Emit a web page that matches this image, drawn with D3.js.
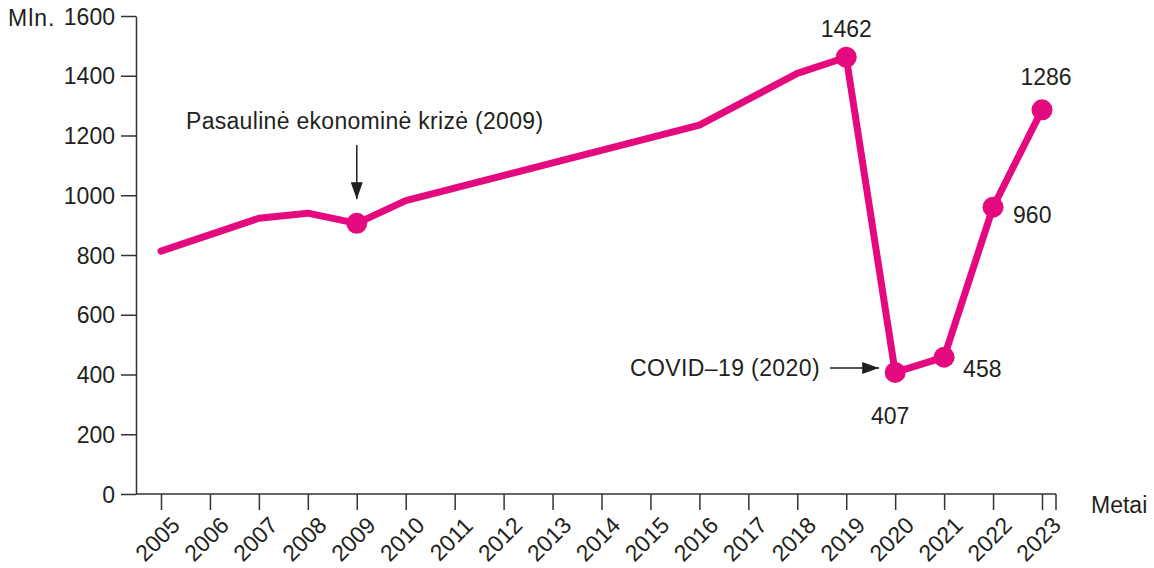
<!DOCTYPE html>
<html>
<head>
<meta charset="utf-8">
<script src="https://cdn.jsdelivr.net/npm/d3@7"></script>
<style>
  body { margin: 0; background: #fff; }
  svg { font-family: "Liberation Sans", Arial, sans-serif; }
  text { fill: #231f20; }
</style>
</head>
<body>
<div id="chart"></div>
<script>
// values (only years where the line bends)
const years = [2005, 2007, 2008, 2009, 2010, 2016, 2018, 2019, 2020, 2021, 2022, 2023]
const tourists = [813, 923, 940, 906, 982, 1235, 1408, 1462, 407, 458, 960, 1286]
const tickYears = d3.range(2005, 2024)
const yTicks = [0, 200, 400, 600, 800, 1000, 1200, 1400, 1600]
const dotYears = [2009, 2019, 2020, 2021, 2022, 2023]
const valueLabels = [
  {year: 2019, text: '1462', dx: 0, dy: -28, anchor: 'middle'},
  {year: 2020, text: '407', dx: -5, dy: 44, anchor: 'middle'},
  {year: 2021, text: '458', dx: 19, dy: 12, anchor: 'start'},
  {year: 2022, text: '960', dx: 20, dy: 8, anchor: 'start'},
  {year: 2023, text: '1286', dx: 4, dy: -33, anchor: 'middle'}
]

const data = years.map((y, i) => ({year: y, value: tourists[i]}))
const pink = '#e5097f'
const ink = '#333'
const fs = '23px'

const width = 1154
const height = 568

const x = d3.scaleLinear().domain([2005, 2023]).range([161, 1042])
const y = d3.scaleLinear().domain([0, 1600]).range([494, 16])

const svg = d3.select('#chart').append('svg')
  .attr('width', width)
  .attr('height', height)

svg.append('defs').append('marker')
  .attr('id', 'head')
  .attr('viewBox', '0 0 17 12')
  .attr('refX', 17).attr('refY', 6)
  .attr('markerWidth', 17).attr('markerHeight', 12)
  .attr('markerUnits', 'userSpaceOnUse')
  .attr('orient', 'auto')
  .append('path')
    .attr('d', 'M0,0L17,6L0,12z')
    .attr('fill', '#231f20')

// y axis
const yAxis = svg.append('g')
  .attr('transform', 'translate(136,0)')
  .call(d3.axisLeft(y).tickValues(yTicks).tickFormat(d3.format('d'))
    .tickSize(15).tickPadding(6).tickSizeOuter(0))
yAxis.select('.domain').attr('stroke', ink).attr('stroke-width', 1.5)
yAxis.selectAll('.tick line').attr('stroke', ink).attr('stroke-width', 1.5)
yAxis.selectAll('.tick text')
  .style('font-size', fs)
  .attr('fill', '#231f20')
  .attr('dy', '0.35em')

svg.append('text')
  .attr('x', 8).attr('y', 26)
  .style('font-size', fs)
  .style('letter-spacing', '1px')
  .text('Mln.')

// x axis
const axisEnd = 1056
svg.append('line')
  .attr('x1', 136).attr('x2', axisEnd)
  .attr('y1', y(0)).attr('y2', y(0))
  .attr('stroke', ink).attr('stroke-width', 1.5)
svg.append('line')
  .attr('x1', axisEnd).attr('x2', axisEnd)
  .attr('y1', y(0)).attr('y2', y(0) + 16)
  .attr('stroke', ink).attr('stroke-width', 1.5)

const xAxis = svg.append('g')
  .attr('transform', `translate(0,${y(0)})`)
  .call(d3.axisBottom(x).tickValues(tickYears).tickFormat(d3.format('d')).tickSize(16).tickSizeOuter(0))
xAxis.select('.domain').remove()
xAxis.selectAll('.tick line').attr('stroke', ink).attr('stroke-width', 1.5)
xAxis.selectAll('.tick text')
  .style('font-size', fs)
  .attr('fill', '#231f20')
  .attr('text-anchor', 'middle')
  .attr('dy', '0.35em')
  .attr('y', 0)
  .attr('transform', 'translate(-4,45) rotate(-45)')

svg.append('text')
  .attr('x', 1091).attr('y', 513)
  .style('font-size', fs)
  .text('Metai')

// line
const line = d3.line().x(d => x(d.year)).y(d => y(d.value))
svg.append('path')
  .datum(data)
  .attr('d', line)
  .attr('fill', 'none')
  .attr('stroke', pink)
  .attr('stroke-width', 7)
  .attr('stroke-linejoin', 'round')
  .attr('stroke-linecap', 'round')

svg.selectAll('circle.dot')
  .data(data.filter(d => dotYears.includes(d.year)))
  .enter()
  .append('circle')
    .attr('class', 'dot')
    .attr('cx', d => x(d.year))
    .attr('cy', d => y(d.value))
    .attr('r', 10.5)
    .attr('fill', pink)

const byYear = new Map(data.map(d => [d.year, d.value]))
svg.selectAll('text.val')
  .data(valueLabels)
  .enter()
  .append('text')
    .attr('class', 'val')
    .attr('x', d => x(d.year) + d.dx)
    .attr('y', d => y(byYear.get(d.year)) + d.dy)
    .attr('text-anchor', d => d.anchor)
    .attr('dy', '0.35em')
    .style('font-size', fs)
    .text(d => d.text)

// annotations
svg.append('text')
  .attr('x', 186).attr('y', 129)
  .style('font-size', fs)
  .style('letter-spacing', '0.3px')
  .text('Pasaulinė ekonominė krizė (2009)')
svg.append('line')
  .attr('x1', x(2009)).attr('x2', x(2009))
  .attr('y1', 145).attr('y2', y(byYear.get(2009)) - 24)
  .attr('stroke', '#231f20').attr('stroke-width', 1.5)
  .attr('marker-end', 'url(#head)')

svg.append('text')
  .attr('x', 820).attr('y', 368)
  .attr('text-anchor', 'end')
  .attr('dy', '0.35em')
  .style('font-size', fs)
  .style('letter-spacing', '0.4px')
  .text('COVID–19 (2020)')
svg.append('line')
  .attr('x1', 830).attr('x2', x(2020) - 16)
  .attr('y1', 368).attr('y2', 368)
  .attr('stroke', '#231f20').attr('stroke-width', 1.5)
  .attr('marker-end', 'url(#head)')
</script>
</body>
</html>
